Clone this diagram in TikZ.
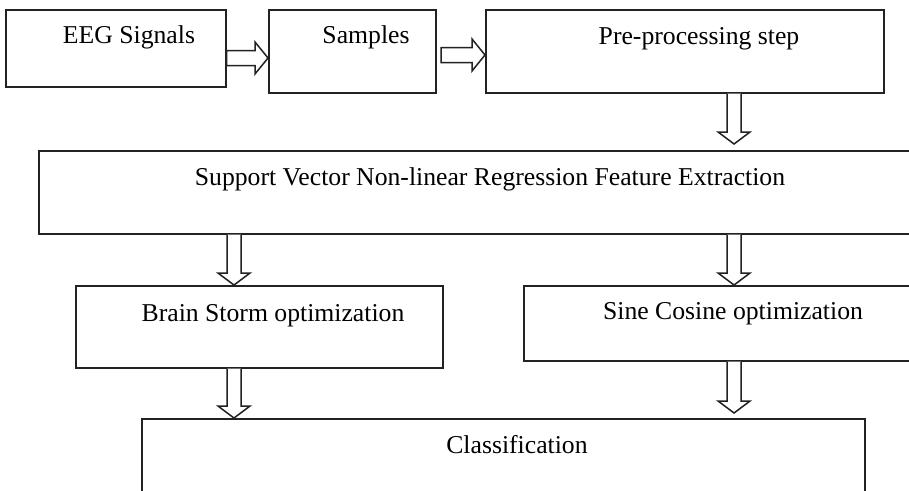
\documentclass[tikz,border=0pt]{standalone}
\usepackage{fontspec}
\setmainfont{Liberation Serif}
\usetikzlibrary{calc}
\definecolor{ink}{HTML}{222222}
\newcommand{\blkdown}[2]{%
  \draw[barrow] let \p1=(#1), \p2=(#2) in
    (\x2-7pt,\y1) -- (\x2-7pt,\y2+12pt) -- (\x2-16pt,\y2+12pt) -- (\x2,\y2)
    -- (\x2+16pt,\y2+12pt) -- (\x2+7pt,\y2+12pt) -- (\x2+7pt,\y1);}
\newcommand{\blkright}[2]{%
  \draw[barrow] let \p1=(#1), \p2=(#2) in
    (\x1,\y2+7.5pt) -- (\x2-13pt,\y2+7.5pt) -- (\x2-13pt,\y2+16pt) -- (\x2,\y2)
    -- (\x2-13pt,\y2-16pt) -- (\x2-13pt,\y2-7.5pt) -- (\x1,\y2-7.5pt) -- cycle;}
\begin{document}
\begin{tikzpicture}[x=1pt,y=-1pt, line width=1.5pt,
  box/.style={draw=ink, rectangle, inner sep=0pt, anchor=north west},
  lbl/.style={anchor=base, inner sep=0pt, text=black, font=\fontsize{25.7}{30}\selectfont},
  barrow/.style={draw=ink, fill=white, line join=miter}]
\useasboundingbox (0,0) rectangle (909,490);
\clip (0,0) rectangle (909,490);
% boxes
\node[box, minimum width=220pt, minimum height=77pt] (eeg) at (5,9) {};
\node[box, minimum width=167pt, minimum height=83pt] (samples) at (268,9) {};
\node[box, minimum width=398pt, minimum height=83pt] (pre) at (485,9) {};
\node[box, minimum width=902pt, minimum height=83pt] (svnr) at (38,150) {};
\node[box, minimum width=367pt, minimum height=82pt] (brain) at (75,285) {};
\node[box, minimum width=417pt, minimum height=75pt] (sine) at (523,285) {};
\node[box, minimum width=723pt, minimum height=102pt] (cls) at (141,418) {};
% labels
\node[lbl] (t-eeg) at (129,43) {EEG Signals};
\node[lbl] (t-sam) at (366,43) {Samples};
\node[lbl] (t-pre) at (699,44) {Pre-processing step};
\node[lbl] (t-svnr) at (490,185) {Support Vector Non-linear Regression Feature Extraction};
\node[lbl] (t-bso) at (273,321) {Brain Storm optimization};
\node[lbl] (t-sco) at (733,319) {Sine Cosine optimization};
\node[lbl] (t-cls) at (517,453) {Classification};
% helper coordinates
\coordinate (r1) at (0,58);
\coordinate (a2s) at (441,55);
\coordinate (a3t) at (734,144);
\coordinate (xL) at (234,0);
\coordinate (xR) at (734,0);
\coordinate (a7t) at (734,413);
% connectors
\blkright{eeg.east}{samples.west |- r1}
\blkright{a2s}{pre.west |- a2s}
\blkdown{pre.south -| a3t}{a3t}
\blkdown{svnr.south -| xL}{brain.north -| xL}
\blkdown{svnr.south -| xR}{sine.north -| xR}
\blkdown{brain.south -| xL}{cls.north -| xL}
\blkdown{sine.south -| xR}{a7t}
\end{tikzpicture}
\end{document}
